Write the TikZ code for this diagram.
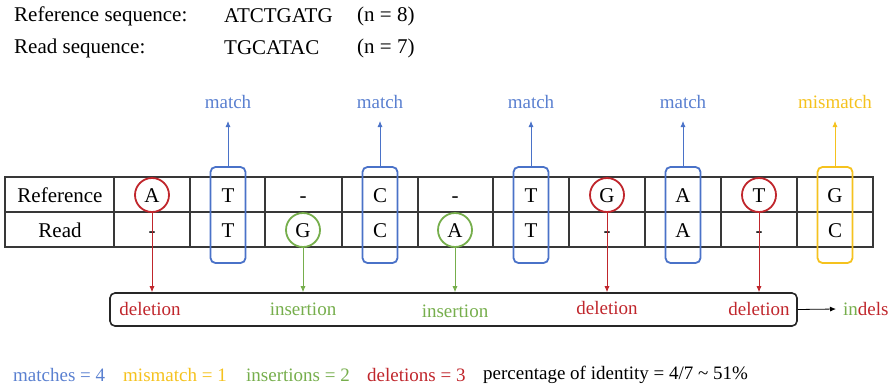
\documentclass[tikz,border=0pt]{standalone}
\usepackage{fontspec}
\setmainfont{Liberation Serif}
\usetikzlibrary{arrows.meta}
\definecolor{mblue}{HTML}{4A72C8}
\definecolor{mbluet}{HTML}{5A80D0}
\definecolor{myel}{HTML}{F5C21E}
\definecolor{mgreen}{HTML}{76AE4C}
\definecolor{mred}{HTML}{C0262C}
\definecolor{grid}{HTML}{383838}
\tikzset{
  big/.style={font=\fontsize{21}{21}\selectfont},
  lab/.style={font=\fontsize{19}{19}\selectfont},
  cell/.style={big, inner sep=0pt, text height=14pt, text depth=0pt},
  ring/.style={draw=#1, line width=1.8pt, circle, minimum size=34pt, inner sep=0pt, big, text height=14pt, text depth=0pt},
  pair/.style={draw=#1, line width=1.8pt, rounded corners=5pt, minimum width=35pt, minimum height=96pt, inner sep=0pt},
  tag/.style={lab, text=#1, inner sep=0pt, anchor=south},
  up/.style={draw=#1, line width=0.8pt, -{Latex[length=6pt,width=5pt]}, shorten >=12pt},
  down/.style={draw=#1, line width=0.8pt, -{Latex[length=6pt,width=5pt]}},
}
\begin{document}
\begin{tikzpicture}[x=1pt,y=-1pt]
\useasboundingbox (0,0) rectangle (892,389);

% header lines
\node[big, anchor=west, inner sep=0pt] (h1) at (14,16) {Reference sequence:};
\node[big, anchor=west, inner sep=0pt] (h2) at (224,16) {ATCTGATG};
\node[big, anchor=west, inner sep=0pt] (h3) at (357,16) {(n = 8)};
\node[big, anchor=west, inner sep=0pt] (h4) at (14,48) {Read sequence:};
\node[big, anchor=west, inner sep=0pt] (h5) at (224,48) {TGCATAC};
\node[big, anchor=west, inner sep=0pt] (h6) at (357,48) {(n = 7)};

% alignment grid
\draw[grid, line width=1.4pt] (5,177) rectangle (873,247);
\draw[grid, line width=1.4pt] (5,212) -- (873,212);
\foreach \x in {114,190,265,342,418,493,569,645,721,797}
  \draw[grid, line width=1.4pt] (\x,177) -- (\x,247);

\node[cell] (rl) at (60,195) {Reference};
\node[cell] (dl) at (60,230) {Read};

% reference row
\node[ring=mred] (r1) at (152,195) {A};
\node[cell] (r2) at (228,195) {T};
\node[cell] (r3) at (303,195) {-};
\node[cell] (r4) at (380,195) {C};
\node[cell] (r5) at (455,195) {-};
\node[cell] (r6) at (531,195) {T};
\node[ring=mred] (r7) at (607,195) {G};
\node[cell] (r8) at (683,195) {A};
\node[ring=mred] (r9) at (759,195) {T};
\node[cell] (r10) at (835,195) {G};

% read row
\node[cell] (d1) at (152,230) {-};
\node[cell] (d2) at (228,230) {T};
\node[ring=mgreen] (d3) at (303,230) {G};
\node[cell] (d4) at (380,230) {C};
\node[ring=mgreen] (d5) at (455,230) {A};
\node[cell] (d6) at (531,230) {T};
\node[cell] (d7) at (607,230) {-};
\node[cell] (d8) at (683,230) {A};
\node[cell] (d9) at (759,230) {-};
\node[cell] (d10) at (835,230) {C};

% match / mismatch frames
\node[pair=mblue] (p2) at (228,215) {};
\node[pair=mblue] (p4) at (380,215) {};
\node[pair=mblue] (p6) at (531,215) {};
\node[pair=mblue] (p8) at (683,215) {};
\node[pair=myel] (p10) at (835,215) {};

\node[tag=mbluet] (t2) at (228,109) {match};
\node[tag=mbluet] (t4) at (380,109) {match};
\node[tag=mbluet] (t6) at (531,109) {match};
\node[tag=mbluet] (t8) at (683,109) {match};
\node[tag=myel] (t10) at (835,109) {mismatch};
\foreach \i in {2,4,6,8} \draw[up=mblue] (p\i.north) -- (t\i.south);
\draw[up=myel] (p10.north) -- (t10.south);

% indel summary box
\node[draw=black!85, line width=1.6pt, rounded corners=5pt, minimum width=687pt, minimum height=33pt, inner sep=0pt] (box) at (453.5,309.5) {};
\node[lab, text=mred] (e1) at (150,309) {deletion};
\node[lab, text=mgreen] (e3) at (303,309) {insertion};
\node[lab, text=mgreen] (e5) at (455,311) {insertion};
\node[lab, text=mred] (e7) at (607,308) {deletion};
\node[lab, text=mred] (e9) at (759,309) {deletion};

\draw[down=mred] (r1.south) -- (r1.south |- box.north);
\draw[down=mgreen] (d3.south) -- (d3.south |- box.north);
\draw[down=mgreen] (d5.south) -- (d5.south |- box.north);
\draw[down=mred] (r7.south) -- (r7.south |- box.north);
\draw[down=mred] (r9.south) -- (r9.south |- box.north);

\node[lab, anchor=west, inner sep=0pt] (ind) at (843,309) {\textcolor{mgreen}{in}\textcolor{mred}{dels}};
\draw[line width=0.8pt, -{Latex[length=6pt,width=5pt]}] (box.east) -- ([xshift=-7pt]ind.west);

% totals
\node[lab, anchor=west, inner sep=0pt, text=mbluet] (s1) at (13,375) {matches = 4};
\node[lab, anchor=west, inner sep=0pt, text=myel] (s2) at (123,375) {mismatch = 1};
\node[lab, anchor=west, inner sep=0pt, text=mgreen] (s3) at (246,375) {insertions = 2};
\node[lab, anchor=west, inner sep=0pt, text=mred] (s4) at (367,375) {deletions = 3};
\node[lab, anchor=west, inner sep=0pt] (s5) at (483,375) {percentage of identity = 4/7 \textasciitilde{} 51\%};
\end{tikzpicture}
\end{document}
